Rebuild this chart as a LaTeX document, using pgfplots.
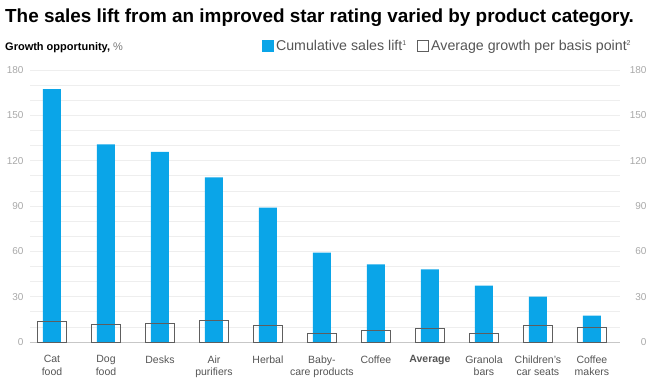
\documentclass[border=0pt]{standalone}
\usepackage{fontspec}
\setmainfont{Liberation Sans}
\usepackage{pgfplots}
\pgfplotsset{compat=1.18}
\definecolor{mckblue}{HTML}{0AA5E8}
\definecolor{boxgray}{HTML}{5E5E5E}
\definecolor{labgray}{HTML}{555555}
\definecolor{ticknum}{HTML}{A8A8A8}
\definecolor{gridc}{HTML}{EEEEEE}
\newcommand{\smallsup}[1]{\raisebox{4.5pt}{\fontsize{7}{8}\selectfont #1}}
\begin{document}
\begin{tikzpicture}
\useasboundingbox (-30pt,-42pt) rectangle (620pt,342pt);
\begin{axis}[
  at={(0pt,0pt)}, anchor=south west,
  scale only axis, width=590pt, height=272pt,
  xmin=-0.407, xmax=10.52, ymin=0, ymax=180,
  axis x line*=bottom, axis y line*=left,
  x axis line style={draw=black!22, line width=0.8pt, -},
  y axis line style={draw=none},
  xtick={0,...,10},
  xticklabels={{Cat\\food},{Dog\\food},{Desks},{Air\\purifiers},{Herbal},{Baby-\\care products},{Coffee},{\textbf{Average}},{Granola\\bars},{Children's\\car seats},{Coffee\\makers}},
  xticklabel style={align=center, font=\fontsize{10.5}{12.5}\selectfont, text=labgray, yshift=-10pt},
  x tick style={draw=none},
  extra x ticks={0.5,1.5,...,9.5},
  extra x tick labels={},
  extra x tick style={tick style={draw=black!20, line width=0.6pt}, major tick length=4pt, tick align=outside, grid=none},
  ytick={0,30,...,180},
  minor ytick={10,20,40,50,70,80,100,110,130,140,160,170},
  ymajorgrids, yminorgrids,
  major grid style={draw=gridc, line width=0.6pt},
  minor grid style={draw=gridc, line width=0.6pt},
  y tick style={draw=none},
  yticklabel style={font=\fontsize{10}{12}\selectfont, text=ticknum, xshift=-3pt},
  /pgf/number format/assume math mode=true,
  legend style={at={(0.393,1.088)}, anchor=west, draw=none, fill=none, inner sep=0pt,
    legend columns=2, font=\fontsize{14.2}{16}\selectfont, text=labgray,
    /tikz/every even column/.style={column sep=9pt},
    nodes={inner sep=2pt}},
  legend cell align=left,
]
\addplot[ybar, bar width=18pt, bar shift=0pt, fill=mckblue, draw=none,
  legend image code/.code={\fill[mckblue] (0pt,-6pt) rectangle (12pt,6pt);}]
  coordinates {(0,167.4) (1,130.8) (2,125.9) (3,109) (4,88.9) (5,59.1) (6,51.4) (7,48.1) (8,37.3) (9,30) (10,17.4)};
\addlegendentry{Cumulative sales lift\smallsup{1}}
\addplot[ybar, bar width=29pt, bar shift=0pt, fill=none, draw=boxgray, line width=1pt,
  legend image code/.code={\draw[boxgray, line width=0.8pt] (0.4pt,-5.6pt) rectangle (11.6pt,5.6pt);}]
  coordinates {(0,13.7) (1,11.7) (2,12.4) (3,14.4) (4,11) (5,5.5) (6,7.3) (7,8.8) (8,5.3) (9,10.8) (10,9.3)};
\addlegendentry{Average growth per basis point\smallsup{2}}
\end{axis}
\begin{axis}[
  at={(0pt,0pt)}, anchor=south west,
  scale only axis, width=590pt, height=272pt,
  xmin=-0.407, xmax=10.52, ymin=0, ymax=180,
  axis y line*=right, axis x line=none,
  y axis line style={draw=none},
  ytick={0,30,...,180}, y tick style={draw=none},
  yticklabel style={font=\fontsize{10}{12}\selectfont, text=ticknum, anchor=east, xshift=30pt},
  /pgf/number format/assume math mode=true,
]
\addplot[draw=none] coordinates {(0,0)};
\end{axis}
\node[anchor=base west, inner sep=0pt, font=\bfseries\fontsize{18.9}{22}\selectfont] at (-25pt,320pt) {The sales lift from an improved star rating varied by product category.};
\node[anchor=base west, inner sep=0pt, font=\fontsize{11}{13}\selectfont] at (-25pt,292pt) {\textbf{Growth opportunity,} \textcolor{labgray!80}{\%}};
\end{tikzpicture}
\end{document}
